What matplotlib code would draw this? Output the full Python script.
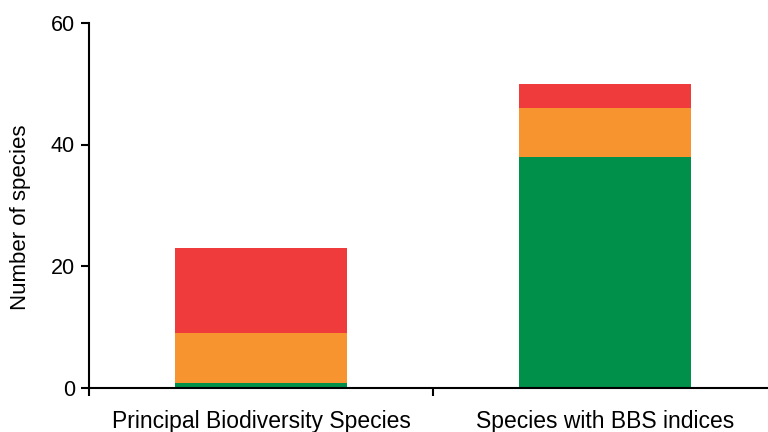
import matplotlib
matplotlib.use("Agg")
import matplotlib.pyplot as plt
import numpy as np

categories = ["Principal Biodiversity Species", "Species with BBS indices"]
green = [0.7, 38]
orange = [8.3, 8]
red = [14, 4]

plt.rcParams['font.family'] = ['Liberation Sans', 'DejaVu Sans']

fig = plt.figure(figsize=(7.68, 4.32), dpi=100)
ax = fig.add_axes([89/768, 44.5/432, 1 - 89/768, 364.5/432])

x = np.arange(len(categories))
w = 0.5
g = np.array(green); o = np.array(orange); r = np.array(red)
ax.bar(x, g, width=w, color="#00904A", zorder=2)
ax.bar(x, o, width=w, bottom=g, color="#F7942F", zorder=2)
ax.bar(x, r, width=w, bottom=g + o, color="#EF3B3B", zorder=2)

ax.set_yticks([0, 20, 40, 60])
ax.set_xticks(x)
ax.set_xticklabels(categories)
ax.set_xticks([-0.5, 0.5, 1.5], minor=True)
ax.set_ylim(0, 60)
ax.set_xlim(-0.5, -0.5 + 679/344)
ax.tick_params(axis='x', which='major', length=0, pad=16, labelsize=16.5)
ax.tick_params(axis='x', which='minor', length=6, width=1.5, direction='out')
ax.tick_params(axis='y', length=6, width=1.5, labelsize=15.5, pad=4)
ax.set_ylabel("Number of species", fontsize=16)
ax.yaxis.set_label_coords(-0.086, 0.468)

for s in ['top', 'right']:
    ax.spines[s].set_visible(False)
for s in ['left', 'bottom']:
    ax.spines[s].set_linewidth(1.5)
ax.spines['bottom'].set_zorder(3)

fig.savefig("out.png", dpi=100)
